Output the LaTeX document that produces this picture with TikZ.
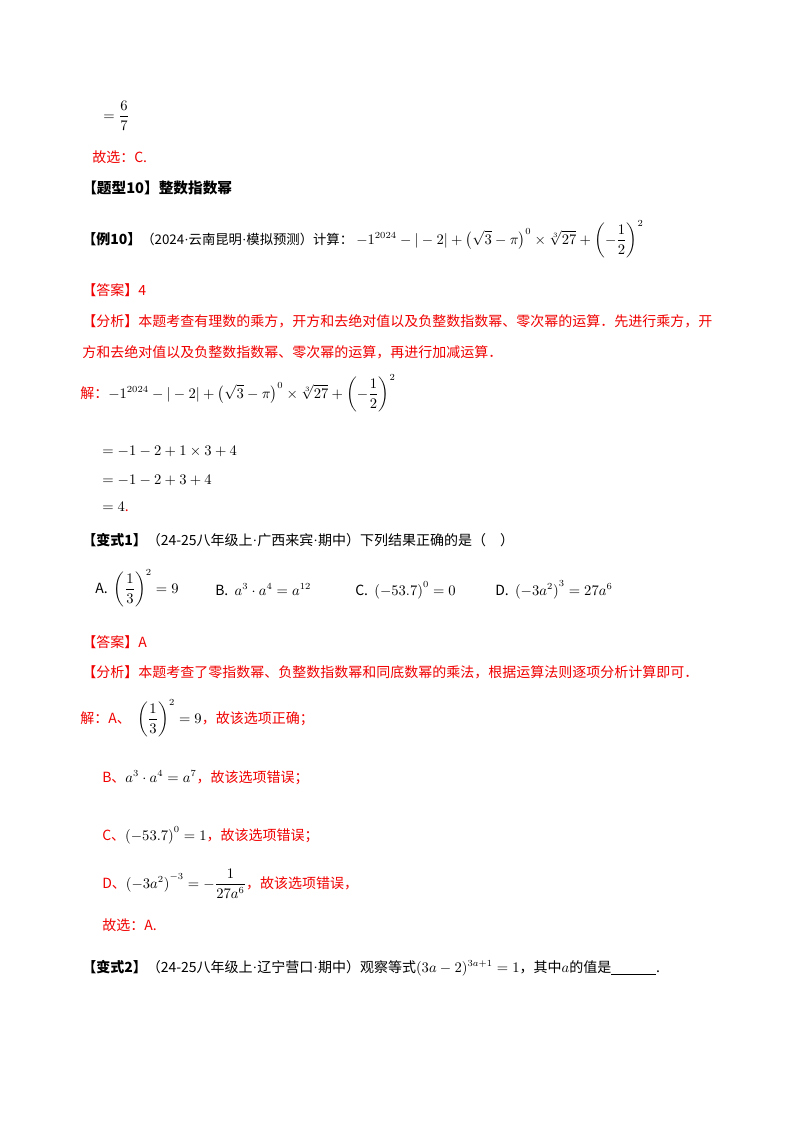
\documentclass[tikz,border=0pt]{standalone}
\usepackage{fontspec}
\usepackage{amsmath}
\setmainfont{Noto Sans CJK SC}
\newfontfamily\latinser{Liberation Serif}
\newcommand{\mdt}{{\latinser\textperiodcentered}}
\definecolor{ansred}{RGB}{240,0,0}
\begin{document}
\begin{tikzpicture}[x=0.75pt,y=-0.75pt,
  t/.style={anchor=base west,inner sep=0pt,font=\fontsize{10.5}{12}\selectfont},
  r/.style={t,text=ansred},
  b/.style={t,font=\fontsize{11}{13}\selectfont\bfseries}]
\useasboundingbox (0,0) rectangle (800,1132);
\node[t] (f1) at (103,120) {$=\dfrac{6}{7}$};
\node[r] (s1) at (92,162) {故选：C.};
\node[b] (h1) at (82,193) {【题型10】整数指数幂};
\node[t] (e10) at (82,244) {\textbf{【例10】}{\fontsize{10}{12}\selectfont（2024\mdt 云南昆明\mdt 模拟预测）计算：}\ $-1^{2024}-|-2|+\left(\sqrt{3}-\pi\right)^0\times\sqrt[3]{27}+\left(-\dfrac{1}{2}\right)^{2}$};
\node[r] (a1) at (82,295) {【答案】4};
\node[r] (p1) at (82,326) {【分析】本题考查有理数的乘方，开方和去绝对值以及负整数指数幂、零次幂的运算．先进行乘方，开};
\node[r] (p2) at (82,357) {方和去绝对值以及负整数指数幂、零次幂的运算，再进行加减运算．};
\node[r] (j1) at (80,398) {解：\textcolor{black}{$-1^{2024}-|-2|+\left(\sqrt{3}-\pi\right)^0\times\sqrt[3]{27}+\left(-\dfrac{1}{2}\right)^{2}$}};
\node[t] (l1) at (102,455) {$=-1-2+1\times3+4$};
\node[t] (l2) at (102,484) {$=-1-2+3+4$};
\node[t] (l3) at (102,511) {$=4$\textcolor{ansred}{.}};
\node[t] (v1) at (82,545) {\textbf{【变式1】}（24-25八年级上\mdt 广西来宾\mdt 期中）下列结果正确的是（\quad）};
\node[t] (oA) at (95,593) {A.\ \ $\left(\dfrac13\right)^{2}=9$};
\node[t] (oB) at (215,595) {B.\ \ $a^3\cdot a^4=a^{12}$};
\node[t] (oC) at (355,595) {C.\ \ $\left(-53.7\right)^0=0$};
\node[t] (oD) at (495,595) {D.\ \ $\left(-3a^2\right)^3=27a^6$};
\node[r] (a2) at (82,647) {【答案】A};
\node[r] (p3) at (82,677) {【分析】本题考查了零指数幂、负整数指数幂和同底数幂的乘法，根据运算法则逐项分析计算即可．};
\node[r] (jA) at (80,723) {解：A、\ \ \textcolor{black}{$\left(\dfrac13\right)^{2}=9$}，故该选项正确；};
\node[r] (jB) at (102,782) {B、\textcolor{black}{$a^3\cdot a^4=a^{7}$}，故该选项错误；};
\node[r] (jC) at (102,840) {C、\textcolor{black}{$\left(-53.7\right)^0=1$}，故该选项错误；};
\node[r] (jD) at (102,888) {D、\textcolor{black}{$\left(-3a^2\right)^{-3}=-\dfrac{1}{27a^6}$}，故该选项错误，};
\node[r] (s2) at (102,930) {故选：A.};
\node[t] (v2) at (82,972) {\textbf{【变式2】}（24-25八年级上\mdt 辽宁营口\mdt 期中）观察等式$(3a-2)^{3a+1}=1$，其中$a$的值是\underline{\hspace{3.2em}}.};
\end{tikzpicture}
\end{document}
